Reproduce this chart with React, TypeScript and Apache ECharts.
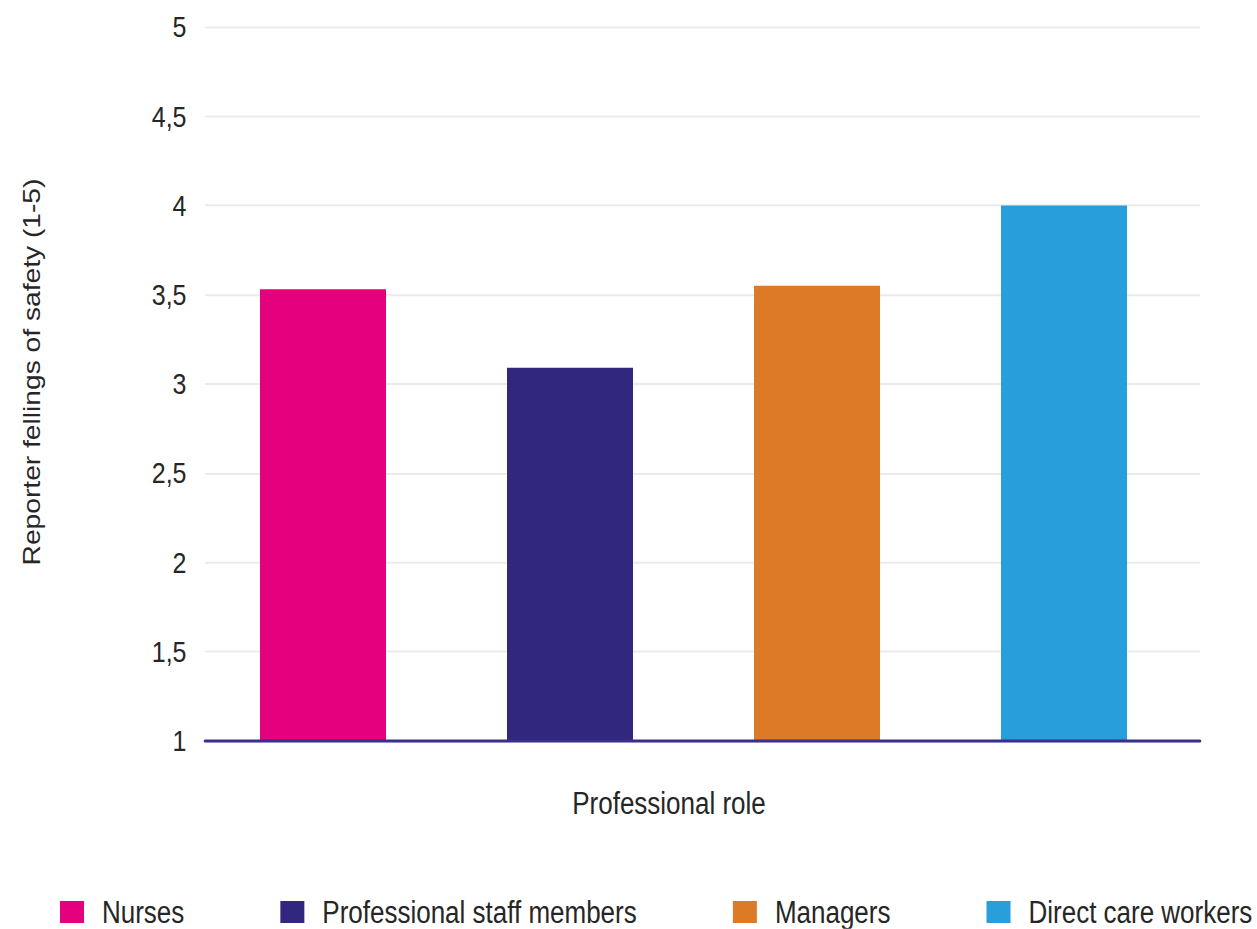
import React, { useEffect, useRef } from "react";
import * as echarts from "echarts";

// Mean reported feeling of safety per professional role (scale 1-5)
const roles = ["Nurses", "Professional staff members", "Managers", "Direct care workers"];
const scores = [3.53, 3.09, 3.55, 4.0];
const roleColors = ["#e5007d", "#31277f", "#dc7a28", "#289fda"];

const yMin = 1;
const yMax = 5;
const yStep = 0.5;

const yAxisTitle = "Reporter fellings of safety (1-5)";
const xAxisTitle = "Professional role";

// The chart is laid out on a shorter canvas and stretched vertically,
// which gives the tall, narrow lettering of the published figure.
const WIDTH = 1257;
const HEIGHT = 929;
const STRETCH = 1.2;
const INNER_H = Math.round(HEIGHT / STRETCH);
const v = (px: number) => px / STRETCH;

const FONT = "'Liberation Sans', Arial, Helvetica, sans-serif";
const TEXT_COLOR = "#262626";

export default function App() {
  const ref = useRef<HTMLDivElement>(null);

  useEffect(() => {
    if (!ref.current) return;
    const chart = echarts.init(ref.current, undefined, { renderer: "svg" });

    const series = roles.map((role, i) => ({
      name: role,
      type: "bar",
      xAxisIndex: 0,
      yAxisIndex: 0,
      stack: "role",
      barWidth: 126,
      itemStyle: { color: roleColors[i] },
      data: roles.map((_, j) => (j === i ? scores[i] : null)),
    }));

    chart.setOption({
      animation: false,
      backgroundColor: "#ffffff",
      textStyle: { fontFamily: FONT },
      grid: [
        { left: 199.5, right: 69.5, top: v(27), bottom: v(188) },
        { left: 205, right: 57, top: v(27), bottom: v(188) },
      ],
      xAxis: [
        { type: "category", gridIndex: 0, data: roles, show: false },
        {
          type: "category",
          gridIndex: 1,
          data: [""],
          z: 10,
          axisLine: { show: true, lineStyle: { color: "#3b2f8c", width: 2.6 } },
          axisTick: { show: false },
          axisLabel: { show: false },
        },
      ],
      yAxis: [
        {
          type: "value",
          gridIndex: 0,
          min: yMin,
          max: yMax,
          interval: yStep,
          axisLine: { show: false },
          axisTick: { show: false },
          splitLine: { show: false },
          axisLabel: {
            margin: 13,
            fontSize: 25,
            fontFamily: FONT,
            color: TEXT_COLOR,
            formatter: (val: number) => String(val).replace(".", ","),
          },
        },
        {
          type: "value",
          gridIndex: 1,
          min: yMin,
          max: yMax,
          interval: yStep,
          axisLine: { show: false },
          axisTick: { show: false },
          axisLabel: { show: false },
          splitLine: { show: true, lineStyle: { color: "#ebebef", width: 1.7 } },
        },
      ],
      legend: {
        top: v(912) - 13,
        left: 60,
        width: 1197,
        padding: 0,
        icon: "rect",
        itemWidth: 24,
        itemHeight: v(22),
        itemGap: 96,
        data: roles,
        textStyle: {
          fontSize: 26,
          fontFamily: FONT,
          color: TEXT_COLOR,
          padding: [0, 0, 0, 13],
        },
      },
      graphic: [
        {
          type: "text",
          x: 32,
          y: v(372),
          rotation: Math.PI / 2,
          style: {
            text: yAxisTitle,
            fontSize: 23.5,
            fontFamily: FONT,
            fill: TEXT_COLOR,
            align: "center",
            verticalAlign: "middle",
          },
        },
        {
          type: "text",
          x: 669,
          y: v(803),
          style: {
            text: xAxisTitle,
            fontSize: 26,
            fontFamily: FONT,
            fill: TEXT_COLOR,
            align: "center",
            verticalAlign: "middle",
          },
        },
      ],
      series,
    });

    return () => chart.dispose();
  }, []);

  return (
    <div
      style={{
        position: "fixed",
        left: 0,
        top: 0,
        width: WIDTH,
        height: HEIGHT,
        background: "#fff",
        overflow: "hidden",
      }}
    >
      <div
        ref={ref}
        style={{
          width: WIDTH,
          height: INNER_H,
          transform: `scaleY(${STRETCH})`,
          transformOrigin: "0 0",
        }}
      />
    </div>
  );
}
